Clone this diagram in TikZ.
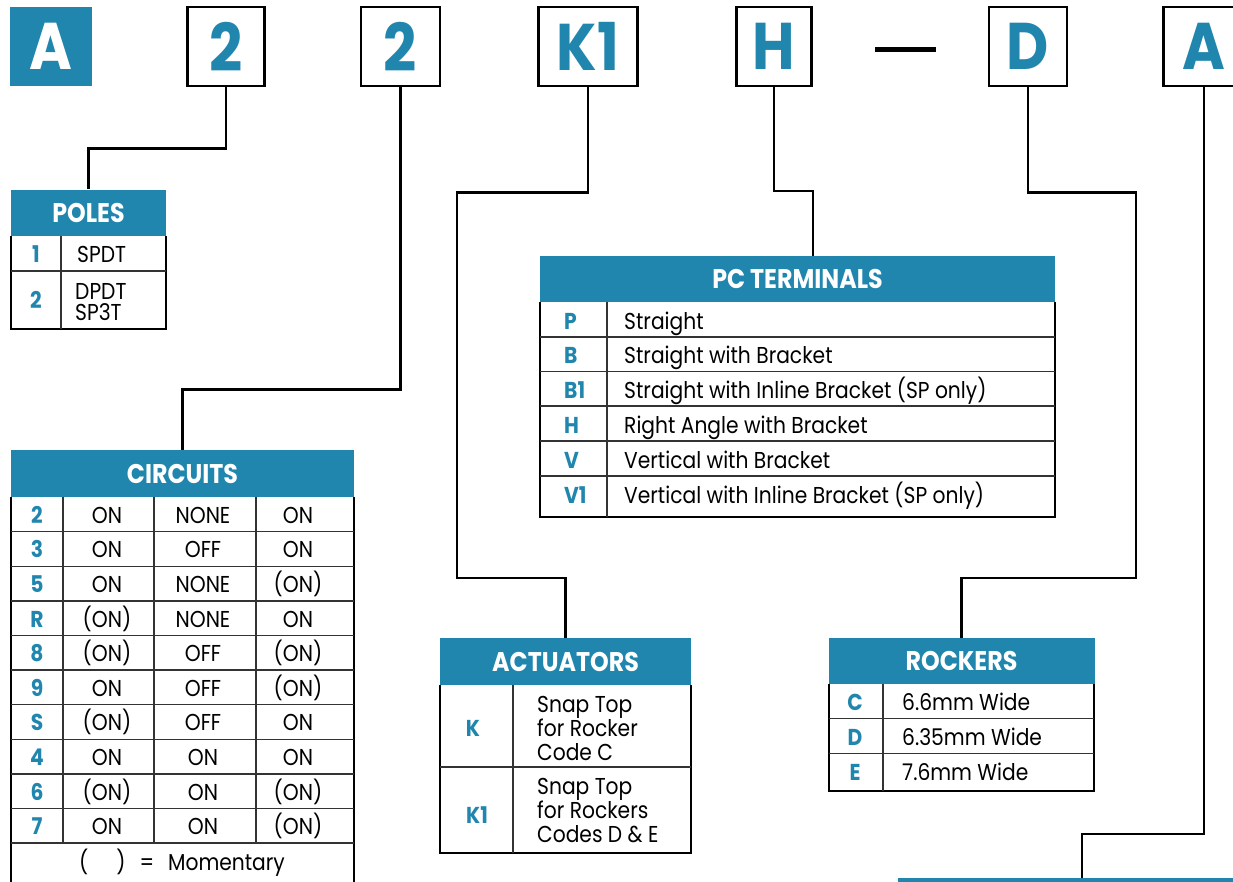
\documentclass[tikz,border=0pt]{standalone}
\usepackage{fontspec}
\setmainfont{Poppins}[FakeStretch=0.88]
\definecolor{tblue}{RGB}{33,134,174}
\newcommand\bodyfnt{\fontsize{23}{24}\selectfont}
\newcommand\headfnt{\fontsize{27}{27}\selectfont\bfseries}
\newcommand\bigfnt{\fontsize{66}{66}\selectfont\bfseries}
\tikzset{
  hbox/.style={draw=black, line width=2.8pt, minimum height=79pt, inner sep=0pt, font=\bigfnt, text=tblue},
  thead/.style={fill=tblue, inner sep=0pt, text=white, font=\headfnt},
  conn/.style={line width=2.7pt, black},
  outer/.style={line width=2.6pt, black},
  inner/.style={line width=1.4pt, black!80},
  lbl/.style={inner sep=0pt, anchor=base, font=\bodyfnt\bfseries, text=tblue},
  txt/.style={inner sep=0pt, anchor=base, font=\bodyfnt, text=black},
  ltxt/.style={txt, anchor=base west, align=left},
}
\begin{document}
\begin{tikzpicture}[x=1pt,y=-1pt]
\useasboundingbox (0,0) rectangle (1233,881);
% code boxes
\node[hbox, fill=tblue, draw=none, minimum width=82pt, text=white] (bA) at (51,46.5) {A};
\node[hbox, minimum width=77pt] (b2) at (226,46.5) {2};
\node[hbox, minimum width=79pt] (b3) at (400.5,46.5) {2};
\node[hbox, minimum width=99pt] (b4) at (588,46.5) {K1};
\node[hbox, minimum width=75pt] (b5) at (774,46.5) {H};
\node[hbox, minimum width=78pt] (b6) at (1028,46.5) {D};
\node[hbox, minimum width=81pt] (b7) at (1204,46.5) {A};
\draw[line width=5.5pt] (875,49.5) -- (936,49.5);

% POLES
\node[thead, minimum width=155pt, minimum height=46pt] (poles) at (88.5,212.5) {POLES};
\draw[outer] (11,236) -- (11,329) -- (166,329) -- (166,236);
\draw[inner] (11,271) -- (166,271);
\draw[inner] (61,236) -- (61,329);
\node[lbl] at (36,262) {1};
\node[lbl] at (36,308) {2};
\node[ltxt] at (77,262) {SPDT};
\node[ltxt, font=\fontsize{23}{21}\selectfont] at (75,320) {DPDT\\SP3T};

% CIRCUITS
\node[thead, minimum width=343pt, minimum height=47pt] (circ) at (182.5,473.5) {CIRCUITS};
\draw[outer] (11,497) -- (11,890);
\draw[outer] (354,497) -- (354,890);
\foreach \k in {1,...,10} \draw[inner] (11,{497+34.6*\k}) -- (354,{497+34.6*\k});
\foreach \x in {63,154,256} \draw[inner] (\x,497) -- (\x,843);
\foreach \a/\b/\c/\d [count=\i from 0] in {2/ON/NONE/ON, 3/ON/OFF/ON, 5/ON/NONE/(ON), R/(ON)/NONE/ON, 8/(ON)/OFF/(ON), 9/ON/OFF/(ON), S/(ON)/OFF/ON, 4/ON/ON/ON, 6/(ON)/ON/(ON), 7/ON/ON/(ON)}{
  \node[lbl] at (37,{497+34.6*(\i+0.5)+9}) {\a};
  \node[txt] at (107,{497+34.6*(\i+0.5)+9}) {\b};
  \node[txt] at (203,{497+34.6*(\i+0.5)+9}) {\c};
  \node[txt] at (298,{497+34.6*(\i+0.5)+9}) {\d};
}
\node[txt] (mom) at (182,870) {(\hspace{28pt})\hspace{14pt}=\hspace{14pt}Momentary};

% PC TERMINALS
\node[thead, minimum width=515pt, minimum height=46pt] (pc) at (797.5,279) {PC TERMINALS};
\draw[outer] (540,302) -- (540,517) -- (1055,517) -- (1055,302);
\foreach \yy in {337,371.5,406,441,476} \draw[inner] (540,\yy) -- (1055,\yy);
\draw[inner] (607,302) -- (607,517);
\foreach \a/\b/\yy in {P/Straight/329, B/Straight with Bracket/363.5, B1/Straight with Inline Bracket (SP only)/398, H/Right Angle with Bracket/433, V/Vertical with Bracket/468, V1/Vertical with Inline Bracket (SP only)/503}{
  \node[lbl, anchor=base west] at (564,\yy) {\a};
  \node[ltxt] at (624,\yy) {\b};
}

% ACTUATORS
\node[thead, minimum width=251pt, minimum height=47pt] (act) at (565.5,661.5) {ACTUATORS};
\draw[outer] (440,685) -- (440,853) -- (691,853) -- (691,685);
\draw[inner] (440,767) -- (691,767);
\draw[inner] (513,685) -- (513,853);
\node[lbl] at (473,736) {K};
\node[lbl] at (477,823) {K1};
\node[ltxt] at (537,760) {Snap Top\\for Rocker\\Code C};
\node[ltxt] at (537,842) {Snap Top\\for Rockers\\Codes D \& E};

% ROCKERS
\node[thead, minimum width=266pt, minimum height=46pt] (rock) at (961.5,661) {ROCKERS};
\draw[outer] (829,684) -- (829,791) -- (1094,791) -- (1094,684);
\draw[inner] (829,718.5) -- (1094,718.5);
\draw[inner] (829,753.5) -- (1094,753.5);
\draw[inner] (883,684) -- (883,791);
\foreach \a/\b/\yy in {C/6.6mm Wide/710, D/6.35mm Wide/745, E/7.6mm Wide/780.5}{
  \node[lbl] at (855,\yy) {\a};
  \node[ltxt] at (902,\yy) {\b};
}

% next table (cut off)
\node[fill=tblue, minimum width=345pt, minimum height=6pt, inner sep=0pt, anchor=north west] (nxt) at (898,878) {};

% connectors
\coordinate (k1turn) at (457,578);
\coordinate (hturn) at (813,191);
\coordinate (dturn) at (1136,578);
\coordinate (aturn) at (1082,834);
\draw[conn] (b2.south) -- ++(0,61) -| (poles.north);
\draw[conn] (b3.south) -- ++(0,302) -| (circ.north);
\draw[conn] (b4.south) -- ++(0,105) -| (k1turn) -| (act.north);
\draw[conn] (b5.south) |- (hturn) -- (hturn |- pc.north);
\draw[conn] (b6.south) -- ++(0,105) -| (dturn) -| (rock.north);
\draw[conn] (b7.south) |- (aturn) -- (aturn |- nxt.north);
\end{tikzpicture}
\end{document}
